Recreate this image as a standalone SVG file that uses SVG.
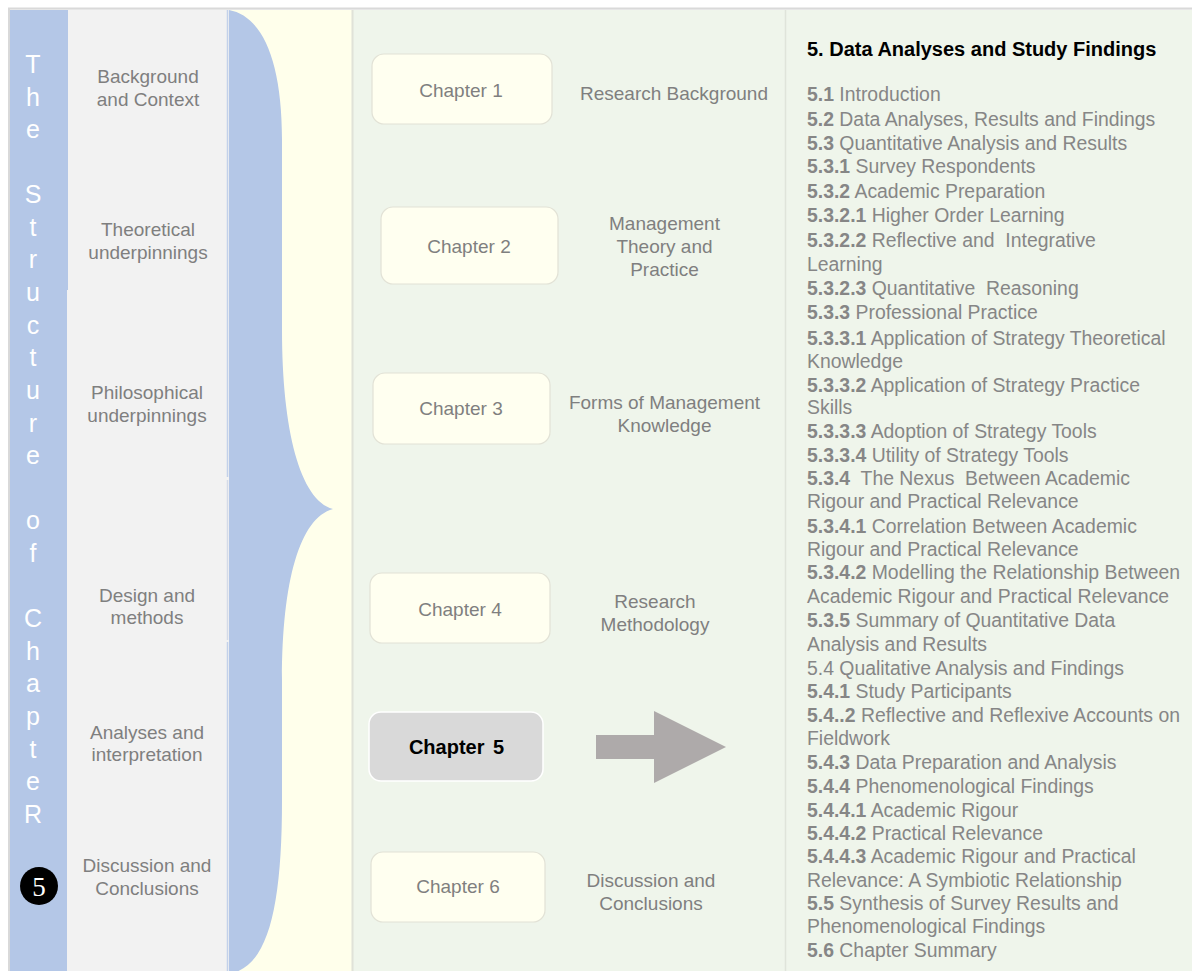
<svg xmlns="http://www.w3.org/2000/svg" width="1192" height="971" viewBox="0 0 1192 971">
<defs>
<style>
.lbl{font-family:"Liberation Sans",Arial,sans-serif;font-size:19px;fill:#7f7f7f;text-anchor:middle}
.vert{font-family:"Liberation Sans",Arial,sans-serif;font-size:25px;fill:#ffffff;text-anchor:middle}
.box{fill:#fffff0;stroke:#e2e2d6;stroke-width:1.2}
.list{font-family:"Liberation Sans",Arial,sans-serif;font-size:19.4px;fill:#868686}
.list tspan.n{font-weight:bold}
.title{font-family:"Liberation Sans",Arial,sans-serif;font-size:20px;font-weight:bold;fill:#000000}
</style>
</defs>
<rect x="0" y="0" width="1192" height="971" fill="#ffffff"/>
<!-- backgrounds -->
<rect x="9" y="8" width="1183" height="963" fill="#f2f2f2"/>
<line x1="8" y1="8.5" x2="1192" y2="8.5" stroke="#d9d9d9" stroke-width="2"/>
<line x1="9" y1="8" x2="9" y2="971" stroke="#d9d9d9" stroke-width="2"/>
<rect x="10" y="10" width="59" height="280" fill="#b4c7e7"/>
<rect x="10" y="290" width="57" height="681" fill="#b4c7e7"/>
<rect x="68" y="10" width="159" height="961" fill="#f2f2f2"/>
<line x1="227.5" y1="10" x2="227.5" y2="477" stroke="#c3d1ea" stroke-width="1.5"/>
<line x1="227.5" y1="480" x2="227.5" y2="640" stroke="#d4dbe8" stroke-width="1.5"/>
<line x1="227.5" y1="642" x2="227.5" y2="971" stroke="#c3d1ea" stroke-width="1.5"/>
<rect x="229" y="10" width="123" height="961" fill="#ffffeb"/>
<rect x="352" y="10" width="840" height="961" fill="#eff5eb"/>
<line x1="352.5" y1="10" x2="352.5" y2="971" stroke="#e0e2d8" stroke-width="2"/>
<line x1="785.5" y1="10" x2="785.5" y2="971" stroke="#dfe4da" stroke-width="1.5"/>

<!-- brace -->
<g id="brace">
<path d="M229,10 C262,16 282,60 282,140 L282,330 C282,430 300,500 333,509 C300,518 282,580 282,680 L282,800 C282,900 270,960 236,972 L229,972 Z" fill="#b4c7e7"/>
</g>

<!-- vertical title -->
<g id="vertical-title">
<text class="vert" x="33" y="73">T</text>
<text class="vert" x="33" y="106">h</text>
<text class="vert" x="33" y="138">e</text>
<text class="vert" x="33" y="203">S</text>
<text class="vert" x="33" y="236">t</text>
<text class="vert" x="33" y="268">r</text>
<text class="vert" x="33" y="301">u</text>
<text class="vert" x="33" y="334">c</text>
<text class="vert" x="33" y="366">t</text>
<text class="vert" x="33" y="399">u</text>
<text class="vert" x="33" y="432">r</text>
<text class="vert" x="33" y="464">e</text>
<text class="vert" x="33" y="529">o</text>
<text class="vert" x="33" y="562">f</text>
<text class="vert" x="33" y="627">C</text>
<text class="vert" x="33" y="660">h</text>
<text class="vert" x="33" y="692">a</text>
<text class="vert" x="33" y="725">p</text>
<text class="vert" x="33" y="758">t</text>
<text class="vert" x="33" y="790">e</text>
<text class="vert" x="33" y="823">R</text>
</g>
<g id="badge5">
<circle cx="39" cy="886" r="19" fill="#000000"/>
<text x="39" y="896" font-family="'Liberation Serif','Times New Roman',serif" font-size="27" fill="#ffffff" text-anchor="middle">5</text>
</g>

<!-- left stage labels -->
<g id="stage-background"><text class="lbl" x="148" y="83">Background</text><text class="lbl" x="148" y="106">and Context</text></g>
<g id="stage-theoretical"><text class="lbl" x="148" y="236">Theoretical</text><text class="lbl" x="148" y="259">underpinnings</text></g>
<g id="stage-philosophical"><text class="lbl" x="147" y="399">Philosophical</text><text class="lbl" x="147" y="422">underpinnings</text></g>
<g id="stage-design"><text class="lbl" x="147" y="602">Design and</text><text class="lbl" x="147" y="624">methods</text></g>
<g id="stage-analyses"><text class="lbl" x="147" y="739">Analyses and</text><text class="lbl" x="147" y="761">interpretation</text></g>
<g id="stage-discussion"><text class="lbl" x="147" y="872">Discussion and</text><text class="lbl" x="147" y="895">Conclusions</text></g>

<!-- chapter boxes -->
<g id="chapter1"><rect class="box" x="372" y="54" width="180" height="70" rx="12"/><text class="lbl" x="461" y="97">Chapter 1</text></g>
<g id="chapter2"><rect class="box" x="381" y="207" width="177" height="77" rx="12"/><text class="lbl" x="469" y="253">Chapter 2</text></g>
<g id="chapter3"><rect class="box" x="373" y="373" width="177" height="71" rx="12"/><text class="lbl" x="461" y="415">Chapter 3</text></g>
<g id="chapter4"><rect class="box" x="370" y="573" width="180" height="70" rx="12"/><text class="lbl" x="460" y="616">Chapter 4</text></g>
<g id="chapter5"><rect x="369" y="712" width="174" height="69" rx="12" fill="#d9d9d9" stroke="#ffffff" stroke-width="1.5"/><text class="lbl" x="456.5" y="754" style="fill:#000000;font-weight:bold;font-size:20px;word-spacing:3px">Chapter 5</text></g>
<g id="chapter6"><rect class="box" x="371" y="852" width="174" height="70" rx="12"/><text class="lbl" x="458" y="893">Chapter 6</text></g>

<!-- chapter titles -->
<g id="title1"><text class="lbl" x="674" y="100">Research Background</text></g>
<g id="title2"><text class="lbl" x="664.5" y="230">Management</text><text class="lbl" x="664.5" y="253">Theory and</text><text class="lbl" x="664.5" y="276">Practice</text></g>
<g id="title3"><text class="lbl" x="664.5" y="409">Forms of Management</text><text class="lbl" x="664.5" y="432">Knowledge</text></g>
<g id="title4"><text class="lbl" x="655" y="608">Research</text><text class="lbl" x="655" y="631">Methodology</text></g>
<g id="title6"><text class="lbl" x="651" y="887">Discussion and</text><text class="lbl" x="651" y="910">Conclusions</text></g>

<!-- connector -->
<g id="connectors">
<polygon points="596,735 654,735 654,711 726,747 654,783 654,759 596,759" fill="#aeaaaa"/>
</g>

<!-- chapter 5 contents -->
<g id="contents">
<text class="title" x="807" y="56">5. Data Analyses and Study Findings</text>
<text class="list" x="807" y="101"><tspan class="n">5.1</tspan> Introduction</text>
<text class="list" x="807" y="126"><tspan class="n">5.2</tspan> Data Analyses, Results and Findings</text>
<text class="list" x="807" y="150"><tspan class="n">5.3</tspan> Quantitative Analysis and Results</text>
<text class="list" x="807" y="173"><tspan class="n">5.3.1</tspan> Survey Respondents</text>
<text class="list" x="807" y="198"><tspan class="n">5.3.2</tspan> Academic Preparation</text>
<text class="list" x="807" y="222"><tspan class="n">5.3.2.1</tspan> Higher Order Learning</text>
<text class="list" x="807" y="247" xml:space="preserve"><tspan class="n">5.3.2.2</tspan> Reflective and  Integrative</text>
<text class="list" x="807" y="271">Learning</text>
<text class="list" x="807" y="295" xml:space="preserve"><tspan class="n">5.3.2.3</tspan> Quantitative  Reasoning</text>
<text class="list" x="807" y="319"><tspan class="n">5.3.3</tspan> Professional Practice</text>
<text class="list" x="807" y="345"><tspan class="n">5.3.3.1</tspan> Application of Strategy Theoretical</text>
<text class="list" x="807" y="368">Knowledge</text>
<text class="list" x="807" y="392"><tspan class="n">5.3.3.2</tspan> Application of Strategy Practice</text>
<text class="list" x="807" y="414">Skills</text>
<text class="list" x="807" y="438"><tspan class="n">5.3.3.3</tspan> Adoption of Strategy Tools</text>
<text class="list" x="807" y="462"><tspan class="n">5.3.3.4</tspan> Utility of Strategy Tools</text>
<text class="list" x="807" y="485" xml:space="preserve"><tspan class="n">5.3.4</tspan>  The Nexus  Between Academic</text>
<text class="list" x="807" y="508">Rigour and Practical Relevance</text>
<text class="list" x="807" y="533"><tspan class="n">5.3.4.1</tspan> Correlation Between Academic</text>
<text class="list" x="807" y="556">Rigour and Practical Relevance</text>
<text class="list" x="807" y="579"><tspan class="n">5.3.4.2</tspan> Modelling the Relationship Between</text>
<text class="list" x="807" y="603">Academic Rigour and Practical Relevance</text>
<text class="list" x="807" y="627"><tspan class="n">5.3.5</tspan> Summary of Quantitative Data</text>
<text class="list" x="807" y="651">Analysis and Results</text>
<text class="list" x="807" y="675">5.4 Qualitative Analysis and Findings</text>
<text class="list" x="807" y="698"><tspan class="n">5.4.1</tspan> Study Participants</text>
<text class="list" x="807" y="722"><tspan class="n">5.4..2</tspan> Reflective and Reflexive Accounts on</text>
<text class="list" x="807" y="745">Fieldwork</text>
<text class="list" x="807" y="769"><tspan class="n">5.4.3</tspan> Data Preparation and Analysis</text>
<text class="list" x="807" y="793"><tspan class="n">5.4.4</tspan> Phenomenological Findings</text>
<text class="list" x="807" y="817"><tspan class="n">5.4.4.1</tspan> Academic Rigour</text>
<text class="list" x="807" y="840"><tspan class="n">5.4.4.2</tspan> Practical Relevance</text>
<text class="list" x="807" y="863"><tspan class="n">5.4.4.3</tspan> Academic Rigour and Practical</text>
<text class="list" x="807" y="887">Relevance: A Symbiotic Relationship</text>
<text class="list" x="807" y="910"><tspan class="n">5.5</tspan> Synthesis of Survey Results and</text>
<text class="list" x="807" y="933">Phenomenological Findings</text>
<text class="list" x="807" y="957"><tspan class="n">5.6</tspan> Chapter Summary</text>
</g>
</svg>
